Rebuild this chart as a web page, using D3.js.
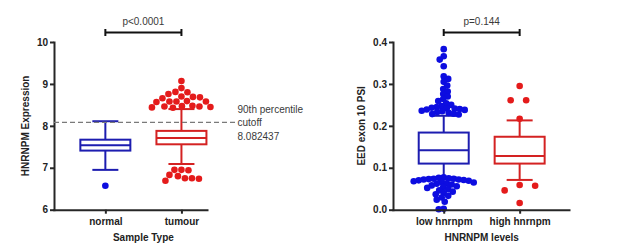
<!DOCTYPE html>
<html>
<head>
<meta charset="utf-8">
<script src="https://cdn.jsdelivr.net/npm/d3@7"></script>
<style>
  body { margin: 0; background: #fff; }
  svg { display: block; font-family: "Liberation Sans", Arial, sans-serif; }
  .axis path, .axis line { stroke: #262626; stroke-width: 2px; }
  .axis text { font-size: 10px; font-weight: bold; fill: #222; }
  .title { font-size: 10px; font-weight: bold; fill: #222; }
  .note { font-size: 10px; fill: #3a3a3a; }
</style>
</head>
<body>
<div class="chart"></div>
<script>
(function(){

//categories
var catsLeft = ["normal", "tumour"];
var catsRight = ["low hnrnpm", "high hnrnpm"];

//box stats: [whisker low, q1, median, q3, whisker high]
var boxNormal = [6.95, 7.41, 7.54, 7.67, 8.11];
var boxTumour = [7.09, 7.56, 7.71, 7.88, 8.40];
var boxLow = [0.077, 0.110, 0.142, 0.184, 0.224];
var boxHigh = [0.071, 0.110, 0.128, 0.174, 0.213];

//outliers
var outNormal = [6.57];
var outTumour = [9.07, 8.90, 8.81, 8.80, 8.76, 8.70, 8.69, 8.68, 8.66,
                 8.59, 8.58, 8.58, 8.58, 8.57, 8.48, 8.47, 8.46, 8.46,
                 8.45, 8.44, 8.43,
                 6.95, 6.94, 6.95, 6.83, 6.80, 6.75, 6.75, 6.74, 6.69];
var outLow = [0.383, 0.366, 0.358, 0.342, 0.318, 0.312, 0.305, 0.296,
              0.288, 0.282, 0.276, 0.270, 0.264, 0.259, 0.254, 0.250,
              0.247, 0.245, 0.243, 0.242, 0.241, 0.240, 0.239, 0.238,
              0.236, 0.235, 0.233, 0.231, 0.229, 0.228, 0.227,
              0.077, 0.076, 0.075, 0.074, 0.074, 0.073, 0.072, 0.072,
              0.071, 0.070, 0.069, 0.068, 0.066, 0.065, 0.063, 0.062,
              0.060, 0.058, 0.056, 0.054, 0.052, 0.049, 0.046, 0.043,
              0.040, 0.037, 0.033, 0.029, 0.024, 0.019, 0.002, 0.001];
var outHigh = [0.295, 0.261, 0.261, 0.217, 0.059, 0.057, 0.046, 0.016];

//ticks
var ticksLeft = [6, 7, 8, 9, 10];
var ticksRight = [0, 0.1, 0.2, 0.3, 0.4];

var cutoffValue = 8.082437;
var cutoffLines = ["90th percentile", "cutoff", "8.082437"];

var blueLine = "#1d1db0", blueDot = "#0d0de0";
var redLine = "#d42222", redDot = "#e41b1b";

var width = 617, height = 252;
var svg = d3.select(".chart").append("svg")
    .attr("width", width)
    .attr("height", height);

var top = 42, bottom = 209.7;

//left panel
var left = drawPanel({
    cats: catsLeft,
    boxes: [boxNormal, boxTumour],
    outs: [outNormal, outTumour],
    yDomain: [6, 10],
    ticks: ticksLeft,
    fmt: d3.format("d"),
    xLeft: 54, xRight: 207, xDomain: [-0.675, 1.336],
    yTitle: "HNRNPM Expression", yTitleX: 28.5,
    xTitle: "Sample Type",
    pText: "p<0.0001",
    gaps: [6.5, 7]
});

var right = drawPanel({
    cats: catsRight,
    boxes: [boxLow, boxHigh],
    outs: [outLow, outHigh],
    yDomain: [0, 0.4],
    ticks: ticksRight,
    fmt: d3.format(".1f"),
    xLeft: 393, xRight: 569, xDomain: [-0.668, 1.65],
    yTitle: "EED exon 10 PSI", yTitleX: 365,
    xTitle: "HNRNPM levels",
    pText: "p=0.144",
    gaps: [5, 15.5]
});

//cutoff line on the left panel
svg.append("line")
    .attr("x1", left.x.range()[0]).attr("x2", 236)
    .attr("y1", left.y(cutoffValue)).attr("y2", left.y(cutoffValue))
    .attr("stroke", "#7a7a7a")
    .attr("stroke-width", 1.2)
    .attr("stroke-dasharray", "5,3");

svg.append("g").selectAll("text")
    .data(cutoffLines)
    .enter().append("text")
    .attr("class", "note")
    .attr("x", 237.5)
    .attr("y", function(d, i){ return 112.5 + i * 13.6; })
    .text(function(d){ return d; });

function drawPanel(o){
    var g = svg.append("g");

    var x = d3.scaleLinear().domain(o.xDomain).range([o.xLeft, o.xRight]);
    var y = d3.scaleLinear().domain(o.yDomain).range([bottom, top]);

    var colorsLine = [blueLine, redLine], colorsDot = [blueDot, redDot];
    var boxW = 50, capW = 26, r = 3.3;

    o.boxes.forEach(function(b, i){
        var cx = x(i);
        var c = colorsLine[i];
        var bg = g.append("g")
            .attr("stroke", c)
            .attr("stroke-width", 2)
            .attr("fill", "none");
        //whiskers
        bg.append("line").attr("x1", cx).attr("x2", cx).attr("y1", y(b[0])).attr("y2", y(b[1]));
        bg.append("line").attr("x1", cx).attr("x2", cx).attr("y1", y(b[3])).attr("y2", y(b[4]));
        bg.append("line").attr("x1", cx - capW/2).attr("x2", cx + capW/2).attr("y1", y(b[0])).attr("y2", y(b[0]));
        bg.append("line").attr("x1", cx - capW/2).attr("x2", cx + capW/2).attr("y1", y(b[4])).attr("y2", y(b[4]));
        //box
        bg.append("rect")
            .attr("x", cx - boxW/2)
            .attr("y", y(b[3]))
            .attr("width", boxW)
            .attr("height", y(b[1]) - y(b[3]));
        bg.append("line").attr("x1", cx - boxW/2).attr("x2", cx + boxW/2).attr("y1", y(b[2])).attr("y2", y(b[2]));

        //outliers, swarm layout
        var pts = dodge(o.outs[i].map(function(v){ return y(v); }), o.gaps[i]);
        g.append("g").selectAll("circle")
            .data(pts)
            .enter().append("circle")
            .attr("cx", function(d){ return cx + d.dx; })
            .attr("cy", function(d){ return d.y; })
            .attr("r", r)
            .attr("fill", colorsDot[i]);
    });

    //axes
    g.append("g")
        .attr("class", "axis")
        .attr("transform", "translate(" + o.xLeft + ",0)")
        .call(d3.axisLeft(y).tickValues(o.ticks).tickFormat(o.fmt).tickSize(4).tickSizeOuter(0).tickPadding(2));

    g.append("g")
        .attr("class", "axis")
        .attr("transform", "translate(0," + bottom + ")")
        .call(d3.axisBottom(x).tickValues([0, 1]).tickFormat(function(d){ return o.cats[d]; }).tickSize(4).tickSizeOuter(0).tickPadding(4));

    g.selectAll(".axis path").attr("stroke-linecap", "square");

    //titles
    var mid = (x(0) + x(1)) / 2;
    g.append("text")
        .attr("class", "title")
        .attr("text-anchor", "middle")
        .attr("transform", "translate(" + o.yTitleX + "," + (top + bottom) / 2 + ") rotate(-90)")
        .text(o.yTitle);
    g.append("text")
        .attr("class", "title")
        .attr("text-anchor", "middle")
        .attr("x", mid)
        .attr("y", 241)
        .text(o.xTitle);

    //significance bracket
    var by = 32.5;
    var br = g.append("g").attr("stroke", "#111").attr("stroke-width", 2);
    br.append("line").attr("x1", x(0)).attr("x2", x(1)).attr("y1", by).attr("y2", by);
    br.append("line").attr("x1", x(0)).attr("x2", x(0)).attr("y1", by - 3.5).attr("y2", by + 3.5);
    br.append("line").attr("x1", x(1)).attr("x2", x(1)).attr("y1", by - 3.5).attr("y2", by + 3.5);
    g.append("text")
        .attr("class", "note")
        .attr("text-anchor", "middle")
        .attr("x", mid)
        .attr("y", 24.5)
        .text(o.pText);

    return {x: x, y: y};
}

//simple beeswarm: horizontal offsets so dots don't overlap too much
function dodge(ys, dist){
    var order = ys.map(function(v, i){ return i; })
        .sort(function(a, b){ return ys[a] - ys[b]; });
    var placed = [];
    var out = [];
    order.forEach(function(idx, k){
        var yv = ys[idx];
        var dx = 0;
        for (var s = 0; s < 200; s++){
            var off = Math.ceil(s / 2) * 0.5 * (s % 2 === 0 ? 1 : -1);
            if (k % 2) off = -off;
            var ok = placed.every(function(p){
                var ddx = p.dx - off, ddy = p.y - yv;
                return ddx * ddx + ddy * ddy >= dist * dist;
            });
            if (ok){ dx = off; break; }
        }
        var p = {y: yv, dx: dx};
        placed.push(p);
        out.push(p);
    });
    return out;
}

})();
</script>
</body>
</html>
